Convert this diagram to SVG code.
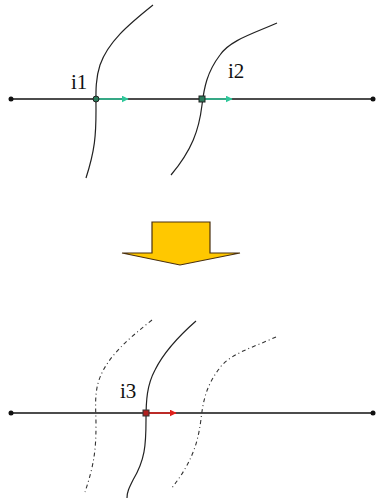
<svg xmlns="http://www.w3.org/2000/svg" width="377" height="502" viewBox="0 0 377 502">
<defs>
<style>
.ln{fill:none;stroke:#111;stroke-width:1.3}
.cv{fill:none;stroke:#222;stroke-width:1.2}
.dcv{fill:none;stroke:#333;stroke-width:1.1;stroke-dasharray:4,3,1,3}
.lbl{font-family:"Liberation Serif",serif;font-size:21px;fill:#111}
.end{fill:#111}
</style>
<marker id="ag" viewBox="0 0 10 10" refX="9" refY="5" markerWidth="7" markerHeight="7" markerUnits="userSpaceOnUse" orient="auto"><path d="M0,0 L10,5 L0,10 z" fill="#2fc79a"/></marker>
<marker id="ar" viewBox="0 0 10 10" refX="9" refY="5" markerWidth="7" markerHeight="7" markerUnits="userSpaceOnUse" orient="auto"><path d="M0,0 L10,5 L0,10 z" fill="#e0201c"/></marker>
</defs>
<rect width="377" height="502" fill="#fff"/>
<g id="connectors">
<line class="ln" x1="11" y1="99" x2="373" y2="99"/>
<line class="ln" x1="11" y1="413" x2="373" y2="413"/>
<path class="cv" d="M153,5 C128,25 108,42 100,65 C95,80 96,95 96,110 C96,135 95,150 86,178"/>
<path class="cv" d="M277,23 C255,33 230,40 220,55 C207,72 204,88 202,105 C199,130 192,150 171,175"/>
<path class="dcv" d="M152,320 C127,340 107,357 99,380 C94,395 96,410 96,425 C96,450 94,465 85,492"/>
<path class="dcv" d="M276,337 C254,347 229,354 219,369 C206,386 203,402 201,419 C198,444 191,464 171,489"/>
<path class="cv" d="M196,321 C180,335 165,350 155,370 C147,385 146,400 146,420 C146,445 145,460 133,480 C129,488 127,492 127,498"/>
<line x1="98" y1="99" x2="128" y2="99" stroke="#2fc79a" stroke-width="1.5" marker-end="url(#ag)"/>
<line x1="204" y1="99" x2="232" y2="99" stroke="#2fc79a" stroke-width="1.5" marker-end="url(#ag)"/>
<line x1="148" y1="413" x2="176" y2="413" stroke="#e0201c" stroke-width="1.5" marker-end="url(#ar)"/>
</g>
<g id="ends">
<circle class="end" cx="11" cy="99" r="2.5"/>
<circle class="end" cx="373" cy="99" r="2.5"/>
<circle class="end" cx="11" cy="413" r="2.5"/>
<circle class="end" cx="373" cy="413" r="2.5"/>
</g>
<g id="i1">
<circle cx="96" cy="99" r="3" fill="#2a7a5a" stroke="#222" stroke-width="1"/>
<text class="lbl" x="71" y="89">i1</text>
</g>
<g id="i2">
<rect x="199" y="96" width="6" height="6" fill="#2a7a5a" stroke="#222" stroke-width="1"/>
<text class="lbl" x="228" y="78">i2</text>
</g>
<g id="i3">
<rect x="143" y="410" width="6" height="6" fill="#b02020" stroke="#333" stroke-width="1"/>
<text class="lbl" x="120" y="398">i3</text>
</g>
<g id="bigarrow">
<path d="M152,222 L210,222 L210,253 L240,253 L180,265 L122,253 L152,253 Z" fill="#ffc800" stroke="#4a3010" stroke-width="1.2" stroke-linejoin="miter"/>
</g>
</svg>
